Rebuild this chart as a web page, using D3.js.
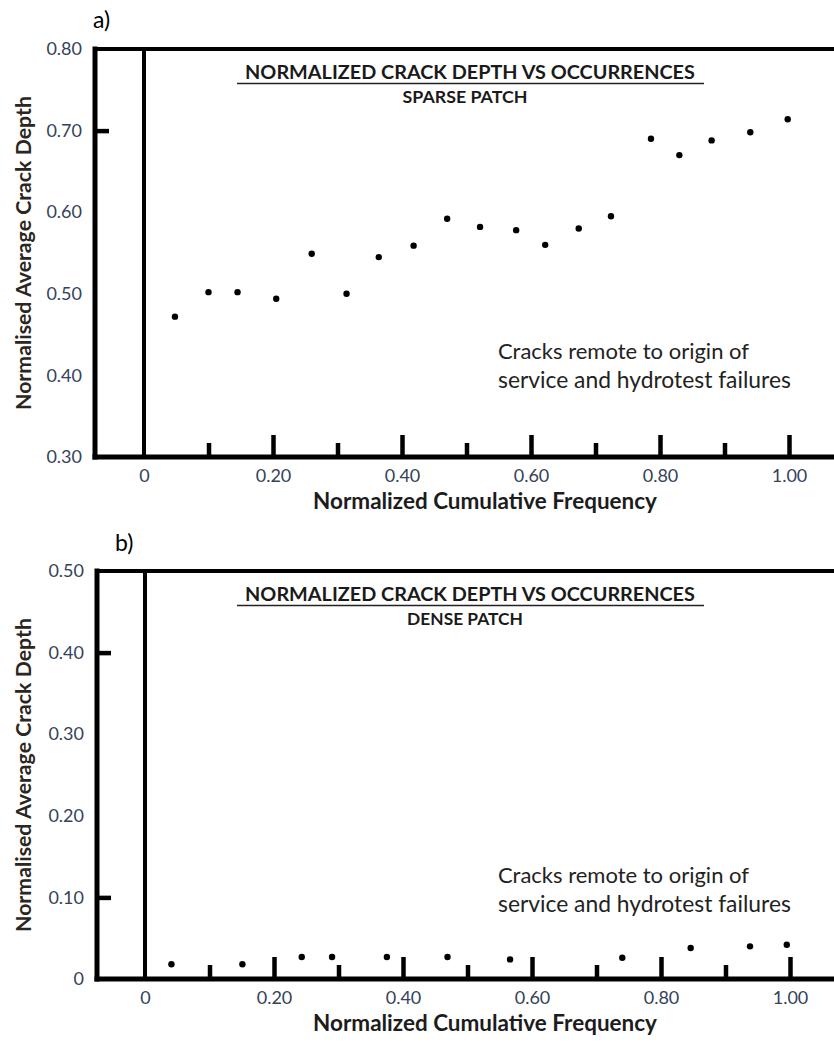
<!DOCTYPE html>
<html><head><meta charset="utf-8">
<script src="https://cdn.jsdelivr.net/npm/d3@7"></script>
<style>body{margin:0;background:#fff} svg{display:block}</style>
</head><body>
<script>
// ---- data ----
const xMajorTicks = [0, 0.2, 0.4, 0.6, 0.8, 1.0];
const xMajorLabels = ["0", "0.20", "0.40", "0.60", "0.80", "1.00"];
const xMinorTicks = [0.1, 0.3, 0.5, 0.7, 0.9];

const sparseX = [0.048, 0.100, 0.145, 0.205, 0.260, 0.314, 0.364, 0.418, 0.470, 0.521, 0.577, 0.622, 0.674, 0.724, 0.786, 0.830, 0.880, 0.940, 0.998];
const sparseY = [0.472, 0.502, 0.502, 0.494, 0.549, 0.500, 0.545, 0.559, 0.592, 0.582, 0.578, 0.560, 0.580, 0.595, 0.690, 0.670, 0.688, 0.698, 0.714];

const denseX = [0.041, 0.151, 0.243, 0.290, 0.375, 0.469, 0.566, 0.740, 0.846, 0.938, 0.995];
const denseY = [0.018, 0.018, 0.027, 0.027, 0.027, 0.027, 0.024, 0.026, 0.038, 0.040, 0.042];

const sparseYTicks = [0.30, 0.40, 0.50, 0.60, 0.70, 0.80];
const sparseYLabels = ["0.30", "0.40", "0.50", "0.60", "0.70", "0.80"];
const sparseYMarks = [0.70];
const denseYTicks = [0, 0.10, 0.20, 0.30, 0.40, 0.50];
const denseYLabels = ["0", "0.10", "0.20", "0.30", "0.40", "0.50"];
const denseYMarks = [0.10, 0.40];

const panelLetters = ["a)", "b)"];
const titleText = "NORMALIZED CRACK DEPTH VS OCCURRENCES";
const subtitles = ["SPARSE PATCH", "DENSE PATCH"];
const xAxisTitle = "Normalized Cumulative Frequency";
const yAxisTitle = "Normalised Average Crack Depth";
const noteLines = ["Cracks remote to origin of", "service and hydrotest failures"];

// ---- drawing ----
const W = 834, H = 1043;
const svg = d3.select("body").append("svg").attr("width", W).attr("height", H);
const FONT = "Lato, 'Open Sans', sans-serif";

function fit(sel, target) {
  const n = sel.node();
  const len = n.getComputedTextLength();
  const fs = parseFloat(sel.attr("font-size"));
  if (len > 0) sel.attr("font-size", (fs * target / len).toFixed(2));
  return sel;
}

function panel(cfg) {
  const g = svg.append("g");
  const x = d3.scaleLinear().domain([0, 1]).range([cfg.x0, cfg.x1]);
  const y = d3.scaleLinear().domain(cfg.yDomain).range([cfg.bottom, cfg.top]);

  // frame lines
  const lineStyle = s => s.attr("stroke", "#000").attr("stroke-linecap", "square");
  lineStyle(g.append("line").attr("x1", cfg.left).attr("x2", W + 5).attr("y1", cfg.top).attr("y2", cfg.top).attr("stroke-width", 4));
  lineStyle(g.append("line").attr("x1", cfg.left).attr("x2", W + 5).attr("y1", cfg.bottom).attr("y2", cfg.bottom).attr("stroke-width", 5));
  lineStyle(g.append("line").attr("x1", cfg.left).attr("x2", cfg.left).attr("y1", cfg.top).attr("y2", cfg.bottom).attr("stroke-width", 5));
  g.append("line").attr("x1", x(0)).attr("x2", x(0)).attr("y1", cfg.top).attr("y2", cfg.bottom)
    .attr("stroke", "#000").attr("stroke-width", 4);

  // x ticks (upward)
  const majorAx = g.append("g").attr("transform", `translate(0,${cfg.bottom})`)
    .call(d3.axisTop(x).tickValues(xMajorTicks.filter(v => v > 0)).tickSize(22).tickFormat(""));
  const minorAx = g.append("g").attr("transform", `translate(0,${cfg.bottom})`)
    .call(d3.axisTop(x).tickValues(xMinorTicks).tickSize(14).tickFormat(""));
  [majorAx, minorAx].forEach(a => {
    a.select(".domain").remove();
    a.selectAll("line").attr("stroke", "#000").attr("stroke-width", 4.5);
  });

  // x tick labels
  const xl = g.append("g").attr("transform", `translate(0,${cfg.bottom})`)
    .call(d3.axisBottom(x).tickValues(xMajorTicks).tickSize(0).tickFormat((d, i) => xMajorLabels[i]));
  xl.select(".domain").remove();
  xl.selectAll("text").attr("y", 25).attr("dy", null)
    .attr("font-family", FONT).attr("font-size", 18).attr("fill", "#34425a");

  // y ticks (rightward)
  const yt = g.append("g").attr("transform", `translate(${cfg.left},0)`)
    .call(d3.axisRight(y).tickValues(cfg.yMarks).tickSize(14).tickFormat(""));
  yt.select(".domain").remove();
  yt.selectAll("line").attr("stroke", "#000").attr("stroke-width", 4.5);

  // y labels
  const yl = g.append("g").attr("transform", `translate(${cfg.left},0)`)
    .call(d3.axisLeft(y).tickValues(cfg.yTicks).tickSize(0).tickPadding(13).tickFormat((d, i) => cfg.yLabels[i]));
  yl.select(".domain").remove();
  yl.selectAll("text").attr("font-family", FONT).attr("font-size", 18).attr("fill", "#34425a");

  // points
  g.append("g").selectAll("circle").data(cfg.xs.map((d, i) => [d, cfg.ys[i]])).join("circle")
    .attr("cx", d => x(d[0])).attr("cy", d => y(d[1])).attr("r", 3.2).attr("fill", "#000");

  // panel letter
  g.append("text").attr("x", cfg.letterX).attr("y", cfg.letterY).text(cfg.letter)
    .attr("font-family", FONT).attr("font-size", 23).attr("fill", "#000");

  // title
  const t = g.append("text").attr("x", 470).attr("y", cfg.top + 30).attr("text-anchor", "middle")
    .text(titleText).attr("font-family", FONT).attr("font-weight", "bold").attr("font-size", 18).attr("fill", "#1a1a1a");
  fit(t, 450);
  g.append("line").attr("x1", 237).attr("x2", 704).attr("y1", cfg.top + 34.5).attr("y2", cfg.top + 34.5)
    .attr("stroke", "#222").attr("stroke-width", 1.5);
  const st = g.append("text").attr("x", 465).attr("y", cfg.top + 54).attr("text-anchor", "middle")
    .text(cfg.subtitle).attr("font-family", FONT).attr("font-weight", "bold").attr("font-size", 15).attr("fill", "#1a1a1a");
  fit(st, cfg.subW);

  // note
  noteLines.forEach((s, i) => {
    const nt = g.append("text").attr("x", 498).attr("y", cfg.noteY + i * 29).text(s)
      .attr("font-family", FONT).attr("font-size", 19).attr("fill", "#222");
    fit(nt, i === 0 ? 251 : 293);
  });

  // axis titles
  const xt = g.append("text").attr("x", 485).attr("y", cfg.bottom + 52).attr("text-anchor", "middle")
    .text(xAxisTitle).attr("font-family", FONT).attr("font-weight", "bold").attr("font-size", 17).attr("fill", "#1c1c1c");
  fit(xt, 344);
  const ymid = (cfg.top + cfg.bottom) / 2;
  const ytl = g.append("text").attr("transform", `translate(31,${ymid}) rotate(-90)`).attr("text-anchor", "middle")
    .text(yAxisTitle).attr("font-family", FONT).attr("font-weight", "bold").attr("font-size", 17).attr("fill", "#2b2620");
  fit(ytl, 314);
}

panel({ left: 95, top: 49, bottom: 457, x0: 144, x1: 789, yDomain: [0.3, 0.8],
  yTicks: sparseYTicks, yLabels: sparseYLabels, yMarks: sparseYMarks, xs: sparseX, ys: sparseY,
  letter: panelLetters[0], letterX: 93, letterY: 28, subtitle: subtitles[0], subW: 125, noteY: 359 });
panel({ left: 97, top: 571, bottom: 979, x0: 145, x1: 790, yDomain: [0, 0.5],
  yTicks: denseYTicks, yLabels: denseYLabels, yMarks: denseYMarks, xs: denseX, ys: denseY,
  letter: panelLetters[1], letterX: 115, letterY: 551, subtitle: subtitles[1], subW: 116, noteY: 883 });
</script>
</body></html>
